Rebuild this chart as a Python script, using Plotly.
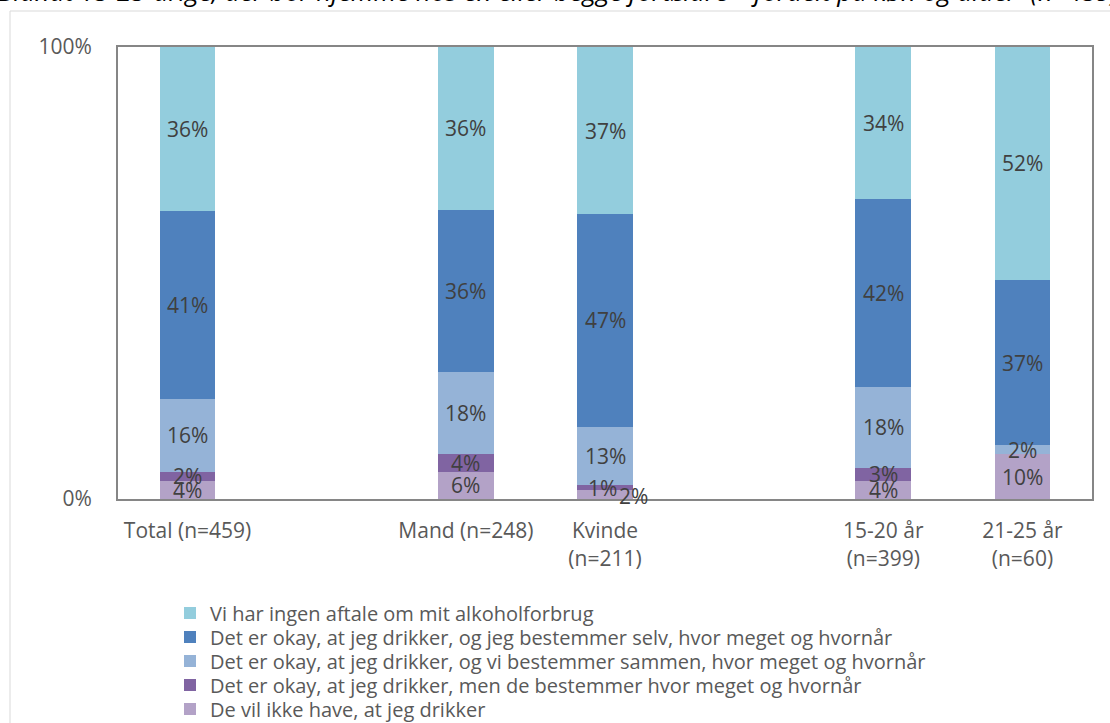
import plotly.graph_objects as go

# Groups shown on the x axis (spacer slots separate total / gender / age)
categories = ["Total (n=459)", " ", "Mand (n=248)", "Kvinde<br>(n=211)", "  ",
              "15-20 år<br>(n=399)", "21-25 år<br>(n=60)"]
groups = ["Total (n=459)", "Mand (n=248)", "Kvinde<br>(n=211)",
          "15-20 år<br>(n=399)", "21-25 år<br>(n=60)"]

# Answer categories, stacked bottom to top (percent of respondents)
series_names = [
    "De vil ikke have, at jeg drikker",
    "Det er okay, at jeg drikker, men de bestemmer hvor meget og hvornår",
    "Det er okay, at jeg drikker, og vi bestemmer sammen, hvor meget og hvornår",
    "Det er okay, at jeg drikker, og jeg bestemmer selv, hvor meget og hvornår",
    "Vi har ingen aftale om mit alkoholforbrug",
]
vil_ikke = [4, 6, 2, 4, 10]
de_bestemmer = [2, 4, 1, 3, 0]
sammen = [16, 18, 13, 18, 2]
selv = [41, 36, 47, 42, 37]
ingen_aftale = [36, 36, 37, 34, 52]
series_values = [vil_ikke, de_bestemmer, sammen, selv, ingen_aftale]

colors = ["#B3A2C7", "#8064A2", "#95B3D7", "#4F81BD", "#93CDDD"]

# label nudges (px) for crowded small segments: (series index, group index) -> (dx, dy)
label_nudge = {(0, 2): (28, -2), (1, 2): (-3, 0)}

FONT = "Open Sans"
LABEL_COLOR = "#404040"
AXIS_COLOR = "#595959"

# plot area in pixels
ML, MR, MT, MB = 118, 18, 47, 224
W, H = 1110, 723
PH = H - MT - MB

# each legend row is its own legend so the row pitch can be set (top row first)
legend_row_centers = [614, 638, 662, 686, 710]
n_series = len(series_names)

fig = go.Figure()
for si, (name, vals, col) in enumerate(zip(series_names, series_values, colors)):
    row = n_series - 1 - si
    lg = "legend" if row == 0 else f"legend{row + 1}"
    fig.add_trace(go.Bar(
        x=groups, y=vals, name=name, width=0.4, legend=lg,
        marker=dict(color=col, line=dict(width=0)),
        hoverinfo="skip",
    ))

# value labels centred in each (normalised) segment
totals = [sum(v[i] for v in series_values) for i in range(len(groups))]
for gi, g in enumerate(groups):
    base = 0.0
    for si, vals in enumerate(series_values):
        v = vals[gi]
        share = v / totals[gi] * 100
        if v > 0:
            dx, dy = label_nudge.get((si, gi), (0, 0))
            fig.add_annotation(
                x=g, y=base + share / 2, xref="x", yref="y",
                text=f"{v}%", showarrow=False, xshift=dx, yshift=dy,
                font=dict(family=FONT, size=21, color=LABEL_COLOR),
            )
        base += share

# heading line, running off the top edge
fig.add_annotation(
    xref="paper", yref="paper", x=(-4 - ML) / (W - ML - MR), y=1 + (MT + 9) / PH,
    xanchor="left", yanchor="middle",
    text="Blandt 15-25-årige, der bor hjemme hos én eller begge forældre – fordelt på køn og alder  (n=459)",
    showarrow=False, font=dict(family=FONT, size=26, color="#000000", style="italic"),
)

# outer chart frame
fig.add_shape(type="rect", xref="paper", yref="paper",
              x0=(10 - ML) / (W - ML - MR), y0=-0.6, x1=1.1, y1=1 + (MT - 11) / PH,
              line=dict(color="#D9D9D9", width=1), fillcolor="rgba(0,0,0,0)", layer="below")

legend_style = dict(
    x=(170 - ML) / (W - ML - MR), xanchor="left", yanchor="top",
    orientation="v", bgcolor="rgba(0,0,0,0)",
    font=dict(family=FONT, size=20, color=AXIS_COLOR),
    itemclick=False, itemdoubleclick=False,
)
legends = {}
for row, cy in enumerate(legend_row_centers):
    key = "legend" if row == 0 else f"legend{row + 1}"
    legends[key] = dict(legend_style, y=(H - MB - (cy - 20.4)) / PH)

fig.update_layout(
    barmode="stack", barnorm="percent",
    width=W, height=H,
    margin=dict(l=ML, r=MR, t=MT, b=MB, autoexpand=False),
    paper_bgcolor="white", plot_bgcolor="white",
    font=dict(family=FONT, size=21, color=AXIS_COLOR),
    showlegend=True,
    xaxis=dict(
        type="category", categoryorder="array", categoryarray=categories,
        tickvals=categories, ticktext=categories,
        range=[-0.5, len(categories) - 0.5],
        showline=True, linecolor="#868686", linewidth=2, mirror=True,
        showgrid=False, ticks="", ticklabelstandoff=12,
        tickfont=dict(family=FONT, size=21, color=AXIS_COLOR),
    ),
    yaxis=dict(
        range=[0, 100], tickvals=[0, 100], ticktext=["0%", "100%"],
        showline=True, linecolor="#868686", linewidth=2, mirror=True,
        showgrid=False, zeroline=False, ticks="", ticklabelstandoff=20,
        tickfont=dict(family=FONT, size=21, color=AXIS_COLOR),
    ),
    **legends,
)

fig.write_html("out.html")
